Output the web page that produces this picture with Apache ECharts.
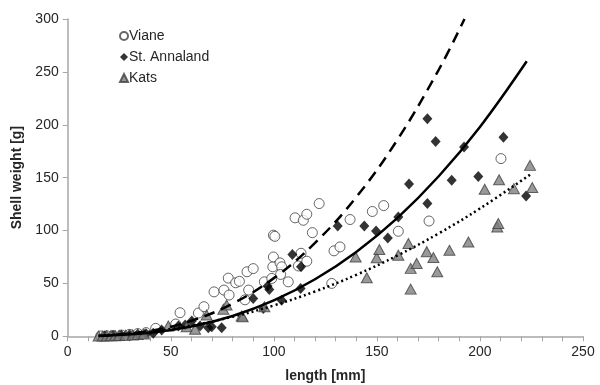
<!DOCTYPE html>
<html><head><meta charset="utf-8">
<script src="https://cdn.jsdelivr.net/npm/echarts@6/dist/echarts.min.js"></script>
<style>html,body{margin:0;padding:0;background:#fff}#c{width:600px;height:385px}</style>
</head><body><div id="c"></div>
<script>
var seriesNames = ['Viane', 'St. Annaland', 'Kats'];
var xTicks = [0, 50, 100, 150, 200, 250];
var yTicks = [0, 50, 100, 150, 200, 250, 300];

var viane = [[16,0.3],[19,0.5],[22,0.8],[26,1.2],[30,1.8],[34,2.6],[38,3.5],[42.7,7.5],[52.4,11.6],[54.5,22.3],[63.4,22],[66.1,28],[71,42],[75.8,43.7],[78.3,39],[77.9,55],[81.5,50.6],[83.3,52],[86,34.5],[87.8,43.7],[87,61],[90,64],[95.4,51.5],[99,54.7],[99.5,65.7],[99.8,75],[99.8,95.6],[100.5,94.5],[103,69.4],[103.8,65.7],[103.3,58.5],[107,51.5],[110.3,112],[114.3,109.7],[116,115.4],[118.7,98],[122,125.5],[111.9,66.5],[113.2,78.5],[116,71],[128.1,50],[129.2,80.8],[132.1,84.5],[137,110.4],[147.8,118],[153.3,123.6],[160.4,99.3],[175.3,109],[210.2,168]];
var annaland = [[18,0.4],[22,0.6],[26,1],[30,1.4],[34,1.9],[38,2.4],[41.5,2.8],[45.6,6],[53.7,9.7],[57,10.7],[60.2,14.4],[64.2,9.7],[68.2,8.1],[69.9,9],[74.7,8.1],[90,35.8],[94.9,26.4],[97,47.5],[97.8,44.3],[103.8,34.2],[109,77.4],[113,45.3],[113.2,65.7],[131,104.3],[143.9,104.3],[149.6,99.6],[155.3,93],[160.4,112.8],[165.6,144],[174.5,125.5],[174.5,205.7],[178.5,184.2],[186.3,147.5],[192.3,178.9],[199.2,151.2],[211.4,188.3],[222.4,132.6]];
var kats = [[15,0.2],[17,0.3],[19,0.4],[21,0.5],[23,0.6],[25,0.8],[28,1],[31.5,1.3],[34,1.7],[37,2.2],[48.8,9.7],[57.7,9],[61.8,6.6],[67.4,20.1],[75.5,25.5],[77.1,29.5],[84.4,19.2],[84.9,18.5],[95.4,27.9],[139.7,75],[145.1,55.3],[149.9,74.2],[151.2,82],[160.4,76.7],[165.3,87.7],[166.4,64.2],[166.4,44.6],[169.3,68.9],[174.2,80],[177.4,74.5],[179.3,61],[185.2,81.4],[194.4,89.2],[202.3,139],[208.4,103.4],[208.9,106.6],[209.3,148],[216.5,139.6],[224.3,161.6],[225.4,140.6]];

var vianeFit = [[15,0.4],[40,5.1],[60,14.7],[80,30.9],[100,55],[120,88.3],[140,131.6],[160,186],[180,252],[192.5,300]];
var annalandFit = [[15,0.3],[40,3.3],[60,9.2],[80,19.2],[100,33.9],[120,53.9],[140,79.8],[160,112],[180,151.3],[200,197.9],[222.7,260]];
var katsFit = [[15,0.6],[40,4.5],[60,10.2],[80,18.5],[100,29.2],[120,42.4],[140,58.1],[160,76.4],[180,97.3],[200,120.8],[224.3,152.8]];

var chart = echarts.init(document.getElementById('c'), null, {renderer: 'canvas'});
var axisText = {color: '#262626', fontSize: 14, fontFamily: 'Liberation Sans, Arial, sans-serif'};
chart.setOption({
  animation: false,
  backgroundColor: '#fff',
  grid: {left: 67.7, right: 17, top: 19, bottom: 48.7, containLabel: false, outerBoundsMode: 'none'},
  legend: {
    data: seriesNames,
    orient: 'vertical',
    left: 114, top: 24,
    itemWidth: 8, itemHeight: 8, itemGap: 7,
    textStyle: {color: '#262626', fontSize: 14, fontFamily: 'Liberation Sans, Arial, sans-serif', padding: [0,0,0,-4]}
  },
  xAxis: {
    type: 'value', min: xTicks[0], max: xTicks[xTicks.length-1], interval: 50,
    name: 'length [mm]', nameLocation: 'middle', nameGap: 33,
    nameTextStyle: {color: '#262626', fontSize: 14, fontWeight: 'bold', fontFamily: 'Liberation Sans, Arial, sans-serif'},
    axisLine: {show: true, lineStyle: {color: '#a6a6a6', width: 1.5}},
    axisTick: {show: true, inside: false, length: 5, lineStyle: {color: '#a6a6a6'}},
    minorTick: {show: true, splitNumber: 5, length: 5, lineStyle: {color: '#a6a6a6'}},
    splitLine: {show: false},
    axisLabel: Object.assign({margin: 9}, axisText)
  },
  yAxis: {
    type: 'value', min: yTicks[0], max: yTicks[yTicks.length-1], interval: 50,
    name: 'Shell weight [g]', nameLocation: 'middle', nameGap: 30, nameRotate: 90,
    nameTextStyle: {color: '#262626', fontSize: 14, fontWeight: 'bold', fontFamily: 'Liberation Sans, Arial, sans-serif'},
    axisLine: {show: true, lineStyle: {color: '#a6a6a6', width: 1.5}},
    axisTick: {show: true, inside: false, length: 5, lineStyle: {color: '#a6a6a6'}},
    splitLine: {show: false},
    axisLabel: Object.assign({margin: 9}, axisText)
  },
  series: [
    {name: 'Viane', type: 'scatter', data: viane, symbol: 'circle', symbolSize: 10, z: 3,
     itemStyle: {color: '#ffffff', borderColor: '#404040', borderWidth: 1}},
    {name: 'St. Annaland', type: 'scatter', data: annaland, symbol: 'diamond', symbolSize: [10, 11], z: 3,
     itemStyle: {color: '#000000'}},
    {name: 'Kats', type: 'scatter', data: kats, symbol: 'triangle', symbolSize: [11, 10], z: 3,
     itemStyle: {color: '#7f7f7f', borderColor: '#404040', borderWidth: 1}},
    {name: 'fitV', type: 'line', data: vianeFit, smooth: 0.4, showSymbol: false, symbol: 'none', z: 4,
     lineStyle: {color: '#000', width: 2.5, type: [11, 7]}},
    {name: 'fitA', type: 'line', data: annalandFit, smooth: 0.4, showSymbol: false, symbol: 'none', z: 4,
     lineStyle: {color: '#000', width: 2.5}},
    {name: 'fitK', type: 'line', data: katsFit, smooth: 0.4, showSymbol: false, symbol: 'none', z: 4,
     lineStyle: {color: '#000', width: 2.5, type: [2, 3]}}
  ]
});
</script></body></html>
